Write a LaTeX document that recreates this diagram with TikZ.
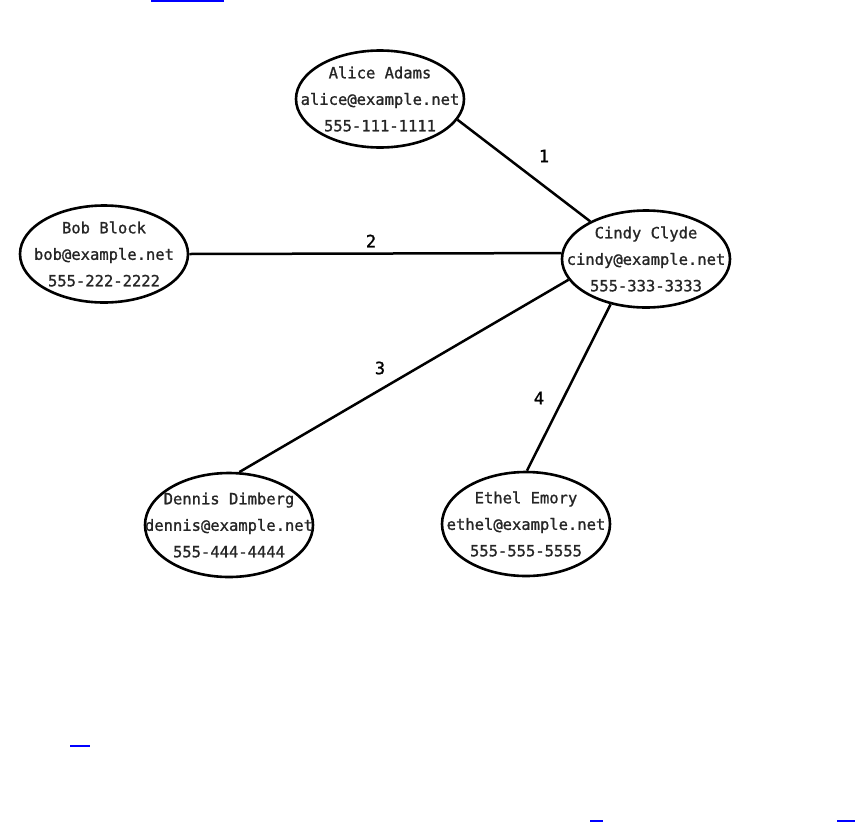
\documentclass[tikz,border=0pt]{standalone}
\usepackage{fontspec}
\setmonofont{DejaVu Sans Mono}
\newfontfamily\monomed[FakeBold=1.1]{DejaVu Sans Mono}
\usetikzlibrary{shapes.geometric}
\tikzset{
  person/.style={ellipse, draw=black, line width=2.6pt, minimum width=168pt, minimum height=97pt, inner sep=0pt},
  info/.style={align=center, text=black!85, font=\monomed\fontsize{15.5}{26.5}\selectfont, inner sep=0pt},
  link/.style={line width=2.5pt, draw=black},
  num/.style={text=black, font=\monomed\fontsize{17}{20}\selectfont, inner sep=0pt},
  blueline/.style={draw=blue, line width=2pt}
}
\begin{document}
\begin{tikzpicture}[x=1pt, y=-1pt]
\useasboundingbox (0,0) rectangle (856,822);
% ellipses
\node[person] (alice) at (380,99) {};
\node[person] (bob) at (104,254) {};
\node[person] (cindy) at (646,259) {};
\node[person, minimum height=104pt] (dennis) at (229,525) {};
\node[person, minimum height=104pt] (ethel) at (526,524) {};
% texts
\node[info] (alicet) at (alice) {Alice Adams\\alice@example.net\\555-111-1111};
\node[info] (bobt) at (bob) {Bob Block\\bob@example.net\\555-222-2222};
\node[info] (cindyt) at (cindy) {Cindy Clyde\\cindy@example.net\\555-333-3333};
\node[info] (dennist) at (dennis) {Dennis Dimberg\\dennis@example.net\\555-444-4444};
\node[info] (ethelt) at (ethel) {Ethel Emory\\ethel@example.net\\555-555-5555};
% connectors
\draw[link] (alice.-15) -- (cindy.146);
\draw[link] (bob.east) -- (cindy.176);
\draw[link] (dennis.79) -- (cindy.195);
\draw[link] (ethel.89) -- (cindy.232);
% labels
\node[num] (n1) at (544,156) {1};
\node[num] (n2) at (371,241) {2};
\node[num] (n3) at (380,368) {3};
\node[num] (n4) at (539,398) {4};
% stray link underlines
\coordinate (b1a) at (151,1); \coordinate (b1b) at (224,1);
\draw[blueline] (b1a) -- (b1b);
\coordinate (b2a) at (70,746); \coordinate (b2b) at (90,746);
\draw[blueline] (b2a) -- (b2b);
\coordinate (b3a) at (590,821); \coordinate (b3b) at (603,821);
\draw[blueline] (b3a) -- (b3b);
\coordinate (b4a) at (837,821); \coordinate (b4b) at (855,821);
\draw[blueline] (b4a) -- (b4b);
\end{tikzpicture}
\end{document}
